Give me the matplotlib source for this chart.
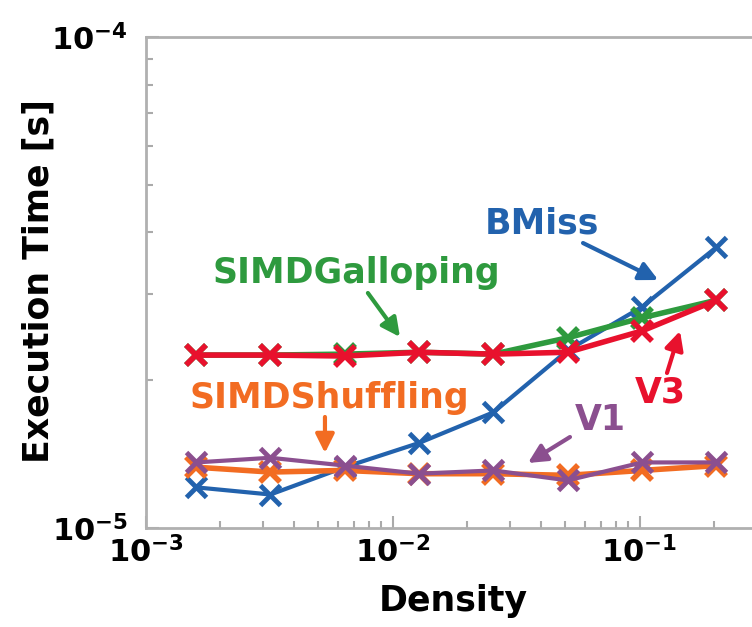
import numpy as np
import matplotlib
matplotlib.use("Agg")
import matplotlib.pyplot as plt
from matplotlib.ticker import LogLocator, FuncFormatter, NullFormatter

# values
density = [0.0016, 0.0032, 0.0064, 0.0128, 0.0256, 0.0512, 0.1024, 0.2048]
bmiss = [1.21e-5, 1.17e-5, 1.33e-5, 1.49e-5, 1.72e-5, 2.30e-5, 2.82e-5, 3.73e-5]
galloping = [2.25e-5, 2.25e-5, 2.26e-5, 2.28e-5, 2.26e-5, 2.44e-5, 2.68e-5, 2.91e-5]
v3 = [2.25e-5, 2.25e-5, 2.24e-5, 2.28e-5, 2.26e-5, 2.28e-5, 2.52e-5, 2.91e-5]
shuffling = [1.33e-5, 1.30e-5, 1.31e-5, 1.29e-5, 1.29e-5, 1.28e-5, 1.31e-5, 1.34e-5]
v1 = [1.36e-5, 1.39e-5, 1.34e-5, 1.29e-5, 1.31e-5, 1.25e-5, 1.36e-5, 1.36e-5]

BLUE = '#2262ad'
GREEN = '#2e9a3e'
RED = '#e8112d'
ORANGE = '#f26c22'
PURPLE = '#8b4f8f'

plt.rcParams['font.family'] = ['DejaVu Sans']
plt.rcParams['mathtext.fontset'] = 'dejavusans'

fig = plt.figure(figsize=(7.52, 6.27), dpi=100)
ax = fig.add_axes([0.1937, 0.1579, 0.8063, 0.7831])

ax.plot(density, bmiss, color=BLUE, lw=3, marker='x', ms=15, mew=3.5, zorder=3)
ax.plot(density, galloping, color=GREEN, lw=4, marker='x', ms=15, mew=4, zorder=4)
ax.plot(density, v3, color=RED, lw=4, marker='x', ms=15, mew=4, zorder=5)
ax.plot(density, shuffling, color=ORANGE, lw=4, marker='x', ms=15, mew=4, zorder=4)
ax.plot(density, v1, color=PURPLE, lw=3, marker='x', ms=15, mew=3.5, zorder=5)

ax.set_xscale('log')
ax.set_yscale('log')
ax.set_xlim(1e-3, 0.2855)
ax.set_ylim(1e-5, 1e-4)

ax.xaxis.set_major_locator(LogLocator(base=10, numticks=10))
ax.yaxis.set_major_locator(LogLocator(base=10, numticks=10))
ax.xaxis.set_minor_locator(LogLocator(base=10, subs=np.arange(2, 10), numticks=10))
ax.yaxis.set_minor_locator(LogLocator(base=10, subs=np.arange(2, 10), numticks=10))
fmt = FuncFormatter(lambda v, p: r'$\mathbf{10^{%d}}$' % int(round(np.log10(v))))
ax.xaxis.set_major_formatter(fmt)
ax.yaxis.set_major_formatter(fmt)
ax.xaxis.set_minor_formatter(NullFormatter())
ax.yaxis.set_minor_formatter(NullFormatter())

ax.tick_params(which='both', direction='in', color='#aaaaaa', width=1.5,
               top=False, right=False)
ax.tick_params(which='major', length=9, labelsize=22)
ax.tick_params(axis='x', which='major', pad=6)
ax.tick_params(axis='y', which='major', pad=13)
ax.tick_params(which='minor', length=5)
for side in ['left', 'bottom', 'top']:
    ax.spines[side].set_color('#b0b0b0')
    ax.spines[side].set_linewidth(2)
ax.spines['right'].set_visible(False)

ax.set_xlabel('Density', fontsize=25, fontweight='bold')
ax.set_ylabel('Execution Time [s]', fontsize=25, fontweight='bold')
ax.xaxis.set_label_coords(0.5077, -0.115)
ax.yaxis.set_label_coords(-0.148, 0.503)

# labels with their arrows, in axes fraction
labels = [
    ('BMiss', BLUE, (0.6537, 0.5988), (0.7213, 0.5804), (0.8453, 0.5051)),
    ('SIMDGalloping', GREEN, (0.3477, 0.4990), (0.3665, 0.4786), (0.4194, 0.3890)),
    ('SIMDShuffling', ORANGE, (0.3023, 0.2444), (0.2957, 0.2261), (0.2957, 0.1527)),
    ('V3', RED, (0.8483, 0.2546), (0.8598, 0.3157), (0.8813, 0.4012)),
    ('V1', PURPLE, (0.7493, 0.1996), (0.6998, 0.1853), (0.6305, 0.1324)),
]
for text, col, pos, tail, tip in labels:
    ax.text(pos[0], pos[1], text, transform=ax.transAxes, color=col,
            fontsize=25, fontweight='bold', ha='center', va='baseline', zorder=6)
    ax.annotate('', xy=tip, xytext=tail, xycoords='axes fraction',
                textcoords='axes fraction',
                arrowprops=dict(arrowstyle='-|>', color=col, lw=3,
                                mutation_scale=28, shrinkA=0, shrinkB=0),
                zorder=6)

fig.savefig('out.png', dpi=100)
